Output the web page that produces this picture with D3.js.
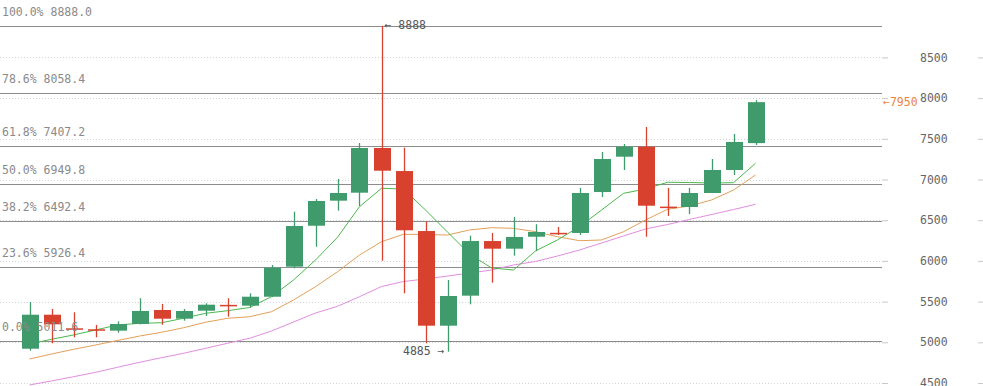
<!DOCTYPE html>
<html>
<head>
<meta charset="utf-8">
<script src="https://cdn.jsdelivr.net/npm/d3@7"></script>
<style>
  body { margin: 0; background: #fff; }
  svg { display: block; font-family: "DejaVu Sans Mono", monospace; }
</style>
</head>
<body>
<div id="chart"></div>
<script>
// daily candles, oldest first
var opens  = [4921, 5339, 5172, 5160, 5143, 5225, 5397, 5290, 5388, 5460, 5450, 5560, 5929, 6432, 6740, 6838, 7387,
              7104, 6367, 5204, 5573, 6244, 6150, 6297, 6345, 6343, 6846, 7280, 7403, 6667, 6662, 6834, 7117, 7447];
var highs  = [5495, 5409, 5369, 5213, 5258, 5541, 5470, 5409, 5479, 5541, 5602, 5950, 6604, 6760, 7006, 7448, 8888,
              7391, 6482, 5765, 6310, 6343, 6539, 6450, 6416, 6896, 7338, 7436, 7645, 6896, 6896, 7252, 7559, 7975];
var lows   = [4897, 4988, 5061, 5061, 5118, 5220, 5216, 5265, 5323, 5315, 5425, 5555, 5909, 6174, 6617, 6674, 6002,
              5602, 4988, 4885, 5467, 5732, 6064, 6120, 6318, 6318, 6785, 7117, 6297, 6552, 6576, 6834, 7055, 7424];
var closes = [5339, 5221, 5165, 5150, 5225, 5385, 5290, 5385, 5462, 5450, 5560, 5916, 6429, 6736, 6834, 7387, 7108,
              6376, 5204, 5569, 6244, 6150, 6294, 6355, 6340, 6834, 7252, 7403, 6678, 6657, 6834, 7117, 7461, 7950];

// moving averages
var maFast = [4979, 5037, 5090, 5151, 5213, 5233, 5240, 5295, 5356, 5388, 5427, 5560, 5765, 6011, 6290, 6666, 6892,
              6883, 6625, 6355, 6085, 5913, 5888, 6122, 6258, 6420, 6625, 6830, 6883, 6966, 6963, 6957, 6961, 7199];
var maMid  = [4795, 4856, 4914, 4967, 5022, 5077, 5123, 5179, 5246, 5295, 5314, 5376, 5520, 5683, 5867, 6072, 6236,
              6327, 6324, 6318, 6380, 6408, 6400, 6359, 6297, 6248, 6257, 6359, 6502, 6634, 6674, 6748, 6871, 7055];
var maSlow = [4476, 4525, 4577, 4631, 4693, 4754, 4811, 4865, 4926, 4988, 5049, 5139, 5249, 5360, 5442, 5560, 5685,
              5747, 5778, 5814, 5851, 5888, 5950, 5993, 6060, 6134, 6220, 6306, 6392, 6447, 6509, 6570, 6631, 6695];

var fibRatios = ['100.0%', '78.6%', '61.8%', '50.0%', '38.2%', '23.6%', '0.0%'];
var fibPrices = [8888.0, 8058.4, 7407.2, 6949.8, 6492.4, 5926.4, 5011.6];

var yTicks = [4500, 5000, 5500, 6000, 6500, 7000, 7500, 8000, 8500];

var width = 983, height = 386;
var plotRight = 882;
var upColor = '#3f9b6b', downColor = '#d8412d';

var svg = d3.select('#chart').append('svg')
    .attr('width', width)
    .attr('height', height);

var x = d3.scaleLinear().domain([0, opens.length - 1]).range([29.5, 755.5]);
var y = d3.scaleLinear().domain([5000, 8500]).range([342.3, 57.4]);
var bodyW = 17;

// dotted grid
svg.append('g').selectAll('line').data(yTicks).join('line')
    .attr('x1', 0).attr('x2', plotRight)
    .attr('y1', d => Math.round(y(d)) + 0.5).attr('y2', d => Math.round(y(d)) + 0.5)
    .attr('stroke', '#d4d4d4')
    .attr('stroke-dasharray', '1,2');

// right axis
var axisG = svg.append('g').attr('transform', 'translate(' + plotRight + ',0)')
    .call(d3.axisRight(y).tickValues(yTicks).tickSize(6).tickPadding(32).tickFormat(d3.format('d')));
axisG.select('.domain').remove();
axisG.selectAll('.tick line').attr('stroke', '#c8c8c8');
axisG.selectAll('.tick text').attr('fill', '#666').attr('font-size', '11.5px')
    .attr('font-family', '"DejaVu Sans Mono", monospace');

var axisG2 = svg.append('g').attr('transform', 'translate(' + width + ',0)')
    .call(d3.axisLeft(y).tickValues(yTicks).tickSize(5).tickFormat(''));
axisG2.select('.domain').remove();
axisG2.selectAll('.tick line').attr('stroke', '#c8c8c8');

// fibonacci levels
svg.append('g').selectAll('line').data(fibPrices).join('line')
    .attr('x1', 0).attr('x2', plotRight)
    .attr('y1', d => Math.round(y(d)) + 0.5).attr('y2', d => Math.round(y(d)) + 0.5)
    .attr('stroke', '#8c8c8c')
    .attr('stroke-width', 1);

// moving averages
var line = d3.line().x((d, i) => x(i)).y(d => y(d));
[[maSlow, '#e08ee0'], [maMid, '#e3a05a'], [maFast, '#4cb84c']].forEach(function (s) {
    svg.append('path').datum(s[0])
        .attr('d', line)
        .attr('fill', 'none')
        .attr('stroke', s[1])
        .attr('stroke-width', 1);
});

// candles
var idx = d3.range(opens.length);
var candles = svg.append('g').selectAll('g').data(idx).join('g');
candles.append('line')
    .attr('x1', i => Math.round(x(i)) + 0.5).attr('x2', i => Math.round(x(i)) + 0.5)
    .attr('y1', i => y(highs[i])).attr('y2', i => y(lows[i]))
    .attr('stroke', i => closes[i] > opens[i] ? upColor : downColor)
    .attr('stroke-width', 1.3);
candles.append('rect')
    .attr('x', i => Math.round(x(i)) - 8)
    .attr('width', bodyW)
    .attr('y', i => y(Math.max(opens[i], closes[i])))
    .attr('height', i => Math.max(1.5, Math.abs(y(opens[i]) - y(closes[i]))))
    .attr('fill', i => closes[i] > opens[i] ? upColor : downColor);

// fib labels
svg.append('g').selectAll('text').data(fibPrices).join('text')
    .attr('x', 2)
    .attr('y', d => y(d) - 10)
    .attr('fill', '#8a8a8a')
    .attr('font-size', '11.5px')
    .text((d, i) => fibRatios[i] + ' ' + d.toFixed(1));

// high / low / last markers
var hiIdx = d3.maxIndex(highs), loIdx = d3.minIndex(lows), last = closes.length - 1;
svg.append('text')
    .attr('x', x(hiIdx) + 3).attr('y', y(highs[hiIdx]))
    .attr('dominant-baseline', 'middle')
    .attr('fill', '#555').attr('font-size', '11.5px')
    .text('\u2190 ' + highs[hiIdx]);
svg.append('text')
    .attr('x', x(loIdx) - 3).attr('y', y(lows[loIdx]))
    .attr('dominant-baseline', 'middle')
    .attr('text-anchor', 'end')
    .attr('fill', '#555').attr('font-size', '11.5px')
    .text(lows[loIdx] + ' \u2192');
svg.append('text')
    .attr('x', plotRight + 1).attr('y', y(closes[last]))
    .attr('dominant-baseline', 'middle')
    .attr('fill', '#e8843c').attr('font-size', '11.5px')
    .text('\u2190' + closes[last]);
</script>
</body>
</html>
